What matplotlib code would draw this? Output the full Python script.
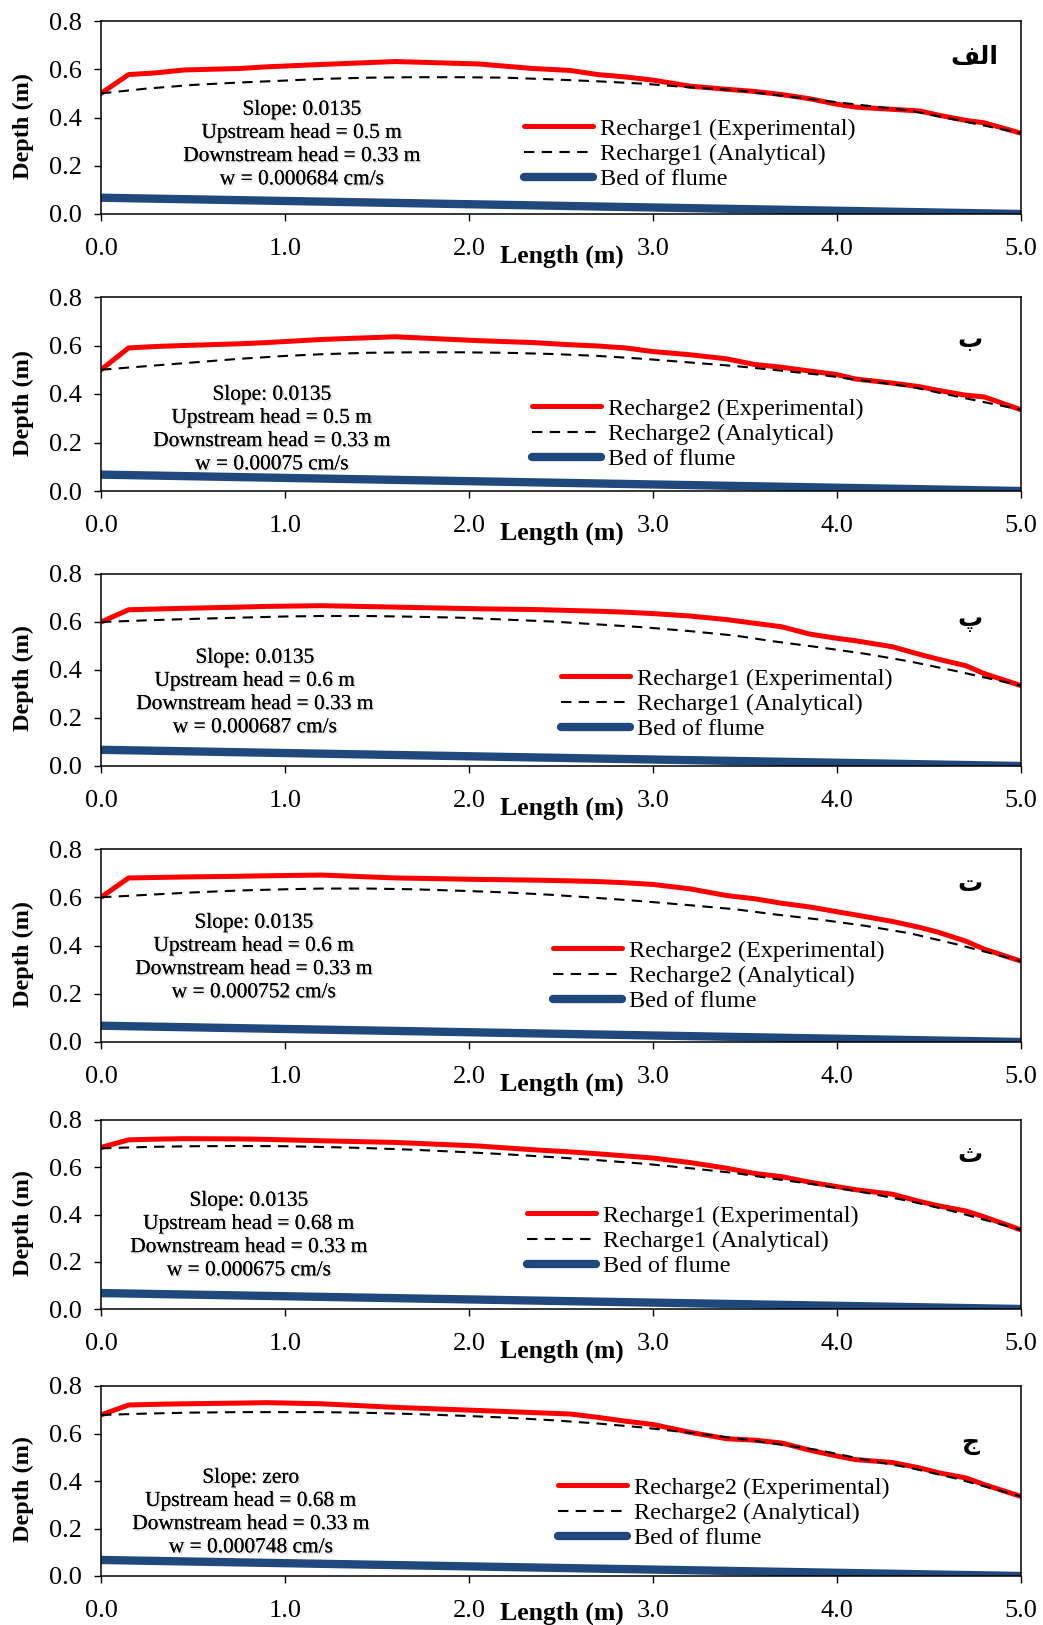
import matplotlib

matplotlib.use("Agg")
import matplotlib.pyplot as plt
import matplotlib.patheffects as pe

plt.rcParams["font.family"] = ["Liberation Serif", "DejaVu Serif"]

# --- data ---
x_exp = [0.0, 0.15, 0.3, 0.45, 0.75, 0.9, 1.2, 1.6, 2.05, 2.35, 2.55, 2.7, 2.85, 3.0,
         3.2, 3.4, 3.55, 3.7, 3.85, 4.0, 4.1, 4.3, 4.45, 4.55, 4.7, 4.8, 5.0]
x_ana = [0.0, 0.25, 0.5, 0.75, 1.0, 1.2, 1.45, 1.7, 1.95, 2.2, 2.45, 2.7, 2.95, 3.2,
         3.45, 3.65, 3.9, 4.15, 4.4, 4.65, 5.0]
x_bed = [0.0, 5.0]
bed = [0.0675, 0.0]

exp_a = [0.50, 0.578, 0.585, 0.597, 0.603, 0.61, 0.62, 0.632, 0.622, 0.603, 0.595, 0.578, 0.568, 0.555,
         0.530, 0.517, 0.508, 0.495, 0.478, 0.455, 0.443, 0.434, 0.427, 0.41, 0.388, 0.378, 0.335]
exp_b = [0.50, 0.59, 0.596, 0.60, 0.607, 0.612, 0.625, 0.636, 0.62, 0.612, 0.603, 0.598, 0.59, 0.575,
         0.562, 0.545, 0.522, 0.51, 0.495, 0.48, 0.462, 0.445, 0.43, 0.415, 0.395, 0.388, 0.335]
exp_c = [0.60, 0.651, 0.654, 0.657, 0.662, 0.665, 0.668, 0.662, 0.655, 0.652, 0.648, 0.645, 0.641, 0.635,
         0.625, 0.61, 0.595, 0.58, 0.55, 0.532, 0.522, 0.497, 0.465, 0.445, 0.418, 0.385, 0.335]
exp_d = [0.60, 0.68, 0.682, 0.684, 0.687, 0.689, 0.692, 0.68, 0.674, 0.671, 0.668, 0.665, 0.66, 0.653,
         0.635, 0.607, 0.594, 0.575, 0.56, 0.54, 0.527, 0.50, 0.475, 0.455, 0.418, 0.385, 0.335]
exp_e = [0.684, 0.716, 0.719, 0.721, 0.72, 0.718, 0.712, 0.705, 0.69, 0.674, 0.665, 0.657, 0.648, 0.639,
         0.62, 0.596, 0.574, 0.56, 0.537, 0.518, 0.505, 0.486, 0.455, 0.437, 0.415, 0.39, 0.335]
exp_f = [0.678, 0.72, 0.723, 0.725, 0.728, 0.73, 0.725, 0.71, 0.697, 0.688, 0.682, 0.668, 0.652, 0.638,
         0.605, 0.578, 0.572, 0.56, 0.53, 0.505, 0.49, 0.478, 0.455, 0.435, 0.413, 0.385, 0.335]

ana_a = [0.50, 0.52, 0.535, 0.545, 0.553, 0.56, 0.565, 0.567, 0.567, 0.565, 0.558, 0.55, 0.54, 0.525,
         0.513, 0.495, 0.472, 0.45, 0.428, 0.39, 0.335]
ana_b = [0.50, 0.515, 0.53, 0.545, 0.557, 0.564, 0.57, 0.572, 0.572, 0.57, 0.565, 0.557, 0.545, 0.53,
         0.515, 0.50, 0.48, 0.455, 0.43, 0.39, 0.335]
ana_c = [0.60, 0.607, 0.613, 0.618, 0.623, 0.625, 0.625, 0.622, 0.618, 0.61, 0.602, 0.59, 0.578, 0.562,
         0.543, 0.52, 0.495, 0.468, 0.435, 0.395, 0.335]
ana_d = [0.60, 0.61, 0.62, 0.628, 0.633, 0.636, 0.636, 0.633, 0.627, 0.62, 0.61, 0.597, 0.583, 0.567,
         0.55, 0.53, 0.508, 0.482, 0.45, 0.405, 0.335]
ana_e = [0.68, 0.686, 0.689, 0.69, 0.689, 0.686, 0.681, 0.674, 0.665, 0.655, 0.643, 0.63, 0.615, 0.596,
         0.575, 0.552, 0.525, 0.493, 0.456, 0.41, 0.335]
ana_f = [0.678, 0.684, 0.688, 0.69, 0.69, 0.69, 0.687, 0.682, 0.675, 0.667, 0.656, 0.642, 0.625, 0.603,
         0.58, 0.558, 0.53, 0.49, 0.455, 0.41, 0.335]

recharge = ["Recharge1", "Recharge2", "Recharge1", "Recharge2", "Recharge1", "Recharge2"]
slopes = ["0.0135", "0.0135", "0.0135", "0.0135", "0.0135", "zero"]
up_heads = ["0.5", "0.5", "0.6", "0.6", "0.68", "0.68"]
w_vals = ["0.000684", "0.00075", "0.000687", "0.000752", "0.000675", "0.000748"]
# Persian panel letters, pre-shaped (presentation forms) since matplotlib does no shaping
panel_tags = ["\uFED2\uFEDF\uFE8D", "\u0628", "\u067E", "\u062A", "\u062B", "\u062C"]

exp_all = [exp_a, exp_b, exp_c, exp_d, exp_e, exp_f]
ana_all = [ana_a, ana_b, ana_c, ana_d, ana_e, ana_f]

# --- layout in pixels (figure 1043 x 1625) ---
W, H = 1043, 1625
ax_left, ax_right = 101, 1021
ax_tops = [21, 297, 574, 849, 1120, 1386]
ax_bots = [214, 491, 766, 1042, 1309, 1576]
note_xy = [(302, 145), (272, 430), (255, 693), (254, 958), (249, 1236), (251, 1513)]
leg_xy = [(524, 154), (532, 434), (561, 704), (553, 976), (527, 1241), (558, 1513)]
tag_xy = [(0.949, 0.813), (0.945, 0.78), (0.945, 0.76), (0.945, 0.82), (0.945, 0.815), (0.945, 0.70)]
xlabel_y = [-0.16, -0.16, -0.16, -0.16, -0.16, -0.135]

RED = "#FF0000"
BLUE = "#1F497D"

fig = plt.figure(figsize=(W / 100, H / 100), dpi=100)

for i in range(6):
    ax = fig.add_axes([ax_left / W, 1 - ax_bots[i] / H,
                       (ax_right - ax_left) / W, (ax_bots[i] - ax_tops[i]) / H])

    ax.plot(x_exp, exp_all[i], color=RED, lw=3.6, solid_capstyle="round", solid_joinstyle="round",
            label=f"{recharge[i]} (Experimental)")
    ax.plot(x_ana, ana_all[i], color="black", lw=1.5, dashes=(5, 3.5),
            label=f"{recharge[i]} (Analytical)")
    ax.plot(x_bed, bed, color=BLUE, lw=6, solid_capstyle="round", label="Bed of flume")

    ax.set_xlim(0, 5)
    ax.set_ylim(0, 0.8)
    ax.set_xticks([0, 1, 2, 3, 4, 5])
    ax.set_yticks([0, 0.2, 0.4, 0.6, 0.8])
    ax.set_xticklabels([f"{v:.1f}" for v in [0, 1, 2, 3, 4, 5]])
    ax.set_yticklabels([f"{v:.1f}" for v in [0, 0.2, 0.4, 0.6, 0.8]])
    ax.tick_params(axis="both", direction="out", length=5, width=1, labelsize=19)
    ax.tick_params(axis="x", pad=12)
    ax.tick_params(axis="y", pad=8.5)
    for sp in ax.spines.values():
        sp.set_linewidth(1.1)

    ax.set_xlabel("Length (m)", fontsize=18.5, fontweight="bold")
    ax.xaxis.set_label_coords(0.501, xlabel_y[i])
    ax.set_ylabel("Depth (m)", fontsize=17.5, fontweight="bold")
    ax.yaxis.set_label_coords(-0.073, 0.456)

    note = (f"Slope: {slopes[i]}\nUpstream head = {up_heads[i]} m\n"
            f"Downstream head = 0.33 m\nw = {w_vals[i]} cm/s")
    ax.text(note_xy[i][0] / W, 1 - note_xy[i][1] / H, note, transform=fig.transFigure,
            ha="center", va="center", multialignment="center", fontsize=15.4, linespacing=1.3,
            path_effects=[pe.withSimplePatchShadow(offset=(1.2, -1.2), shadow_rgbFace="#999999", alpha=0.35),
                          pe.Normal()])

    ax.text(tag_xy[i][0], tag_xy[i][1], panel_tags[i], transform=ax.transAxes,
            ha="center", va="center", fontsize=18, fontweight="bold", family=["DejaVu Sans"])

    ax.legend(loc="center left", bbox_to_anchor=(leg_xy[i][0] / W, 1 - leg_xy[i][1] / H),
              bbox_transform=fig.transFigure, frameon=False, fontsize=17.4,
              handlelength=2.85, handletextpad=0.3, labelspacing=0.13,
              borderpad=0, borderaxespad=0)

fig.savefig("out.png", dpi=100)
